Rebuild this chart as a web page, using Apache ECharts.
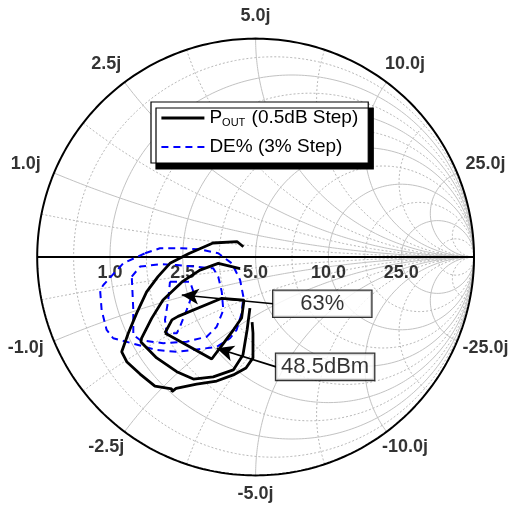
<!DOCTYPE html>
<html>
<head>
<meta charset="utf-8">
<script src="https://cdn.jsdelivr.net/npm/echarts@6/dist/echarts.min.js"></script>
<style>
  html, body { margin: 0; padding: 0; background: #fff; }
  #chart { width: 511px; height: 506px; }
</style>
</head>
<body>
<div id="chart"></div>
<script>
// Reference impedance of the Smith chart (ohms)
const Z0 = 5;
// Labelled resistance circles and reactance arcs (ohms)
const resistanceTicks = [1.0, 2.5, 5.0, 10.0, 25.0];
const reactanceTicks = [1.0, 2.5, 5.0, 10.0, 25.0, -1.0, -2.5, -5.0, -10.0, -25.0];

// Output power contours, 0.5 dB step, as reflection coefficient [Re, Im]
const poutContourOuter = [
  [-0.056, 0.047], [-0.084, 0.070], [-0.195, 0.064], [-0.305, 0.016], [-0.392, -0.029],
  [-0.447, -0.090], [-0.499, -0.160], [-0.544, -0.256], [-0.583, -0.349], [-0.613, -0.434],
  [-0.589, -0.481], [-0.529, -0.536], [-0.461, -0.591], [-0.384, -0.604], [-0.383, -0.616],
  [-0.364, -0.602], [-0.270, -0.582], [-0.178, -0.568], [-0.102, -0.540], [-0.044, -0.508],
  [-0.012, -0.462], [-0.012, -0.348], [-0.016, -0.298]
];
const poutContourMiddle = [
  [-0.071, -0.053], [-0.171, -0.029], [-0.255, -0.060], [-0.337, -0.114], [-0.424, -0.197],
  [-0.476, -0.281], [-0.522, -0.371], [-0.525, -0.389], [-0.453, -0.462], [-0.361, -0.525],
  [-0.285, -0.559], [-0.194, -0.549], [-0.102, -0.517], [-0.058, -0.449], [-0.039, -0.334],
  [-0.026, -0.234]
];
const poutContourInner = [
  [-0.415, -0.348], [-0.383, -0.288], [-0.355, -0.272], [-0.155, -0.189], [-0.053, -0.197],
  [-0.064, -0.279], [-0.099, -0.330], [-0.149, -0.398], [-0.201, -0.467], [-0.415, -0.348]
];

// Drain efficiency contours, 3 % step
const deContourOuter = [
  [-0.506, 0.017], [-0.438, 0.040], [-0.338, 0.040], [-0.255, 0.035], [-0.171, 0.017],
  [-0.109, -0.029], [-0.071, -0.105], [-0.056, -0.182], [-0.064, -0.258], [-0.087, -0.334],
  [-0.117, -0.372], [-0.178, -0.411], [-0.285, -0.426], [-0.361, -0.434], [-0.453, -0.426],
  [-0.567, -0.395], [-0.652, -0.372], [-0.682, -0.334], [-0.705, -0.243], [-0.712, -0.151],
  [-0.697, -0.128], [-0.606, -0.029], [-0.506, 0.017]
];
const deContourMiddle = [
  [-0.567, -0.090], [-0.529, -0.044], [-0.438, -0.033], [-0.361, -0.037], [-0.194, -0.052],
  [-0.171, -0.090], [-0.155, -0.159], [-0.148, -0.243], [-0.178, -0.319], [-0.224, -0.365],
  [-0.316, -0.388], [-0.423, -0.395], [-0.529, -0.380], [-0.560, -0.357], [-0.560, -0.243],
  [-0.567, -0.090]
];
const deContourInner = [
  [-0.392, -0.113], [-0.300, -0.113], [-0.285, -0.159], [-0.316, -0.243], [-0.346, -0.319],
  [-0.361, -0.349], [-0.407, -0.349], [-0.415, -0.288], [-0.400, -0.197], [-0.392, -0.113]
];

// Peak values with their locations and the anchor of their call-out box
const dePeak = { text: '63%', at: [-0.338, -0.174], box: [0.081, -0.214] };
const poutPeak = { text: '48.5dBm', at: [-0.178, -0.418], box: [0.094, -0.503] };

const FONT = "'Liberation Sans', Arial, Helvetica, sans-serif";
const POUT_NAME = 'POUT (0.5dB Step)';
const DE_NAME = 'DE% (3% Step)';

// ---- Smith chart geometry (normalised impedance -> reflection coefficient) ----
function gamma(r, x) {
  const den = (r + 1) * (r + 1) + x * x;
  return [(r * r + x * x - 1) / den, (2 * x) / den];
}
function resistanceCircle(r) {
  const c = r / (1 + r), rho = 1 / (1 + r), pts = [];
  for (let i = 0; i <= 360; i++) {
    const p = (2 * Math.PI * i) / 360;
    pts.push([c + rho * Math.cos(p), rho * Math.sin(p)]);
  }
  return pts;
}
function reactanceArc(x) {
  const pts = [];
  const n = 300;
  for (let i = 0; i < n; i++) {
    const s = (Math.PI / 2) * i / n;
    pts.push(gamma(Math.tan(s), x));
  }
  pts.push([1, 0]);
  return pts;
}

const majorNorm = resistanceTicks.map(v => v / Z0);
// minor circles halfway (in reflection coefficient) between the labelled ones
const gMajor = [-1, ...majorNorm.map(z => (z - 1) / (z + 1)), 1];
const minorR = [];
for (let i = 0; i < gMajor.length - 1; i++) {
  const g = (gMajor[i] + gMajor[i + 1]) / 2;
  minorR.push((1 + g) / (1 - g));
}
// minor arcs halfway (in rim angle) between the labelled ones
const tMajor = [Math.PI, ...majorNorm.map(x => Math.PI - 2 * Math.atan(x)), 0];
const minorX = [];
for (let i = 0; i < tMajor.length - 1; i++) {
  const t = (tMajor[i] + tMajor[i + 1]) / 2;
  minorX.push(Math.tan((Math.PI - t) / 2));
}

function gridSeries(data, color, width, type, z) {
  return {
    type: 'line', data, showSymbol: false, symbol: 'none', silent: true,
    lineStyle: { color, width, type }, z, animation: false, clip: false
  };
}

const series = [];
const MINOR_COLOR = '#b8b8b8', MAJOR_COLOR = '#c2c2c2';
minorR.forEach(r => series.push(gridSeries(resistanceCircle(r), MINOR_COLOR, 1, [2, 2], 1)));
minorX.forEach(x => {
  series.push(gridSeries(reactanceArc(x), MINOR_COLOR, 1, [2, 2], 1));
  series.push(gridSeries(reactanceArc(-x), MINOR_COLOR, 1, [2, 2], 1));
});
majorNorm.forEach(r => series.push(gridSeries(resistanceCircle(r), MAJOR_COLOR, 1, 'solid', 1)));
majorNorm.forEach(x => {
  series.push(gridSeries(reactanceArc(x), MAJOR_COLOR, 1, 'solid', 1));
  series.push(gridSeries(reactanceArc(-x), MAJOR_COLOR, 1, 'solid', 1));
});
// rim (r = 0) and real axis
series.push(gridSeries(resistanceCircle(0), '#000', 2, 'solid', 1));
series.push(gridSeries([[-1, 0], [1, 0]], '#000', 2, 'solid', 1));

// resistance labels under the real axis
series.push({
  type: 'scatter', silent: true, symbolSize: 0, z: 3, animation: false, clip: false,
  data: resistanceTicks.map(v => {
    const z = v / Z0;
    return { value: [(z - 1) / (z + 1), 0], name: v.toFixed(1) };
  }),
  label: {
    show: true, position: 'bottom', distance: 7, formatter: p => p.name,
    fontFamily: FONT, fontWeight: 'bold', fontSize: 18, color: '#000'
  }
});
// reactance labels around the rim
series.push({
  type: 'scatter', silent: true, symbolSize: 0, z: 3, animation: false, clip: false,
  data: reactanceTicks.map(v => {
    const t = Math.PI - 2 * Math.atan(v / Z0);
    const kx = 1.14, ky = Math.sin(t) < 0 ? 1.085 : 1.105;
    return { value: [kx * Math.cos(t), ky * Math.sin(t)], name: v.toFixed(1) + 'j' };
  }),
  label: {
    show: true, position: 'inside', formatter: p => p.name,
    fontFamily: FONT, fontWeight: 'bold', fontSize: 18, color: '#000'
  }
});

// contours
const POUT_STYLE = { color: '#000', width: 2.8, type: 'solid' };
const DE_STYLE = { color: '#0000ff', width: 2, type: [7, 5] };
[deContourOuter, deContourMiddle, deContourInner].forEach(d => series.push({
  name: DE_NAME, type: 'line', data: d, showSymbol: false, symbol: 'none',
  color: '#0000ff', lineStyle: DE_STYLE, z: 4, animation: false
}));
[poutContourOuter, poutContourMiddle, poutContourInner].forEach(d => series.push({
  name: POUT_NAME, type: 'line', data: d, showSymbol: false, symbol: 'none',
  color: '#000', lineStyle: POUT_STYLE, z: 5, animation: false
}));

// call-outs for the peak values
[dePeak, poutPeak].forEach(pk => series.push({
  type: 'scatter', silent: true, symbolSize: 0, z: 7, animation: false, clip: false,
  data: [{ value: pk.box, name: pk.text }],
  label: {
    show: true, position: 'right', distance: 0, formatter: p => '{t|' + p.name + '}',
    backgroundColor: '#fff', borderColor: '#000', borderWidth: 1.3,
    padding: [1, 8, 1, 8],
    rich: {
      t: { fontFamily: FONT, fontSize: 22, lineHeight: 24, color: '#000', width: 82, align: 'center' }
    }
  },
  markLine: {
    silent: true, animation: false, symbol: ['none', 'arrow'], symbolSize: [12, 17],
    lineStyle: { color: '#000', width: 1.7, type: 'solid' },
    label: { show: false },
    data: [[{ coord: pk.box }, { coord: pk.at }]]
  }
}));

const chart = echarts.init(document.getElementById('chart'), null, { renderer: 'canvas' });
chart.setOption({
  animation: false,
  backgroundColor: '#fff',
  grid: { left: 37.2, top: 38.6, width: 436.8, height: 436.8 },
  xAxis: { type: 'value', min: -1, max: 1, show: false },
  yAxis: { type: 'value', min: -1, max: 1, show: false },
  legend: {
    data: [
      { name: POUT_NAME, lineStyle: { width: 2.8, color: '#000', type: 'solid' } },
      { name: DE_NAME, lineStyle: { width: 2, color: '#0000ff', type: [7, 5] } }
    ],
    orient: 'vertical', left: 151, top: 102,
    padding: [6, 10, 6, 9], itemGap: 9, itemWidth: 43, itemHeight: 14,
    backgroundColor: '#fff', borderColor: '#000', borderWidth: 1.2,
    shadowColor: '#000', shadowBlur: 0, shadowOffsetX: 5, shadowOffsetY: 6,
    selectedMode: false,
    itemStyle: { color: 'rgba(0,0,0,0)', borderWidth: 0, opacity: 0 },
    formatter: name => name === POUT_NAME
      ? '{a|P}{s|OUT}{a| (0.5dB Step)}'
      : '{a|DE% (3% Step)}',
    textStyle: {
      fontFamily: FONT, fontSize: 19, color: '#000', lineHeight: 20,
      rich: {
        a: { fontFamily: FONT, fontSize: 19, color: '#000', lineHeight: 20 },
        s: { fontFamily: FONT, fontSize: 11, color: '#000', padding: [10, 1, 0, 0], verticalAlign: 'bottom' }
      }
    }
  },
  series
});
</script>
</body>
</html>
